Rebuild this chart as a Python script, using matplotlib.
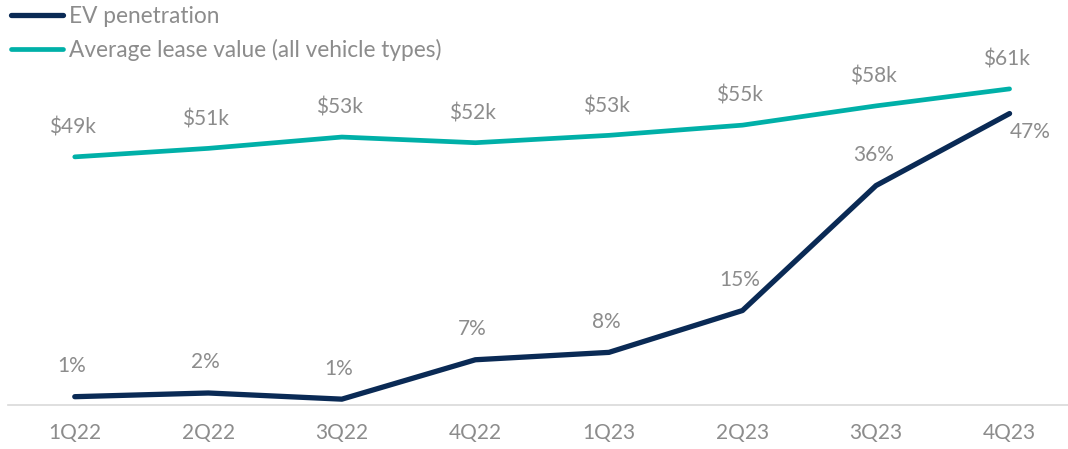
import matplotlib
matplotlib.use("Agg")
import matplotlib.pyplot as plt

quarters = ["1Q22", "2Q22", "3Q22", "4Q22", "1Q23", "2Q23", "3Q23", "4Q23"]
ev_pen = [1.0, 1.6, 0.6, 7.0, 8.2, 15.0, 35.3, 47.0]
ev_labels = ["1%", "2%", "1%", "7%", "8%", "15%", "36%", "47%"]
lease_val = [49.0, 50.5, 52.5, 51.5, 52.8, 54.6, 58.0, 61.0]
lease_labels = ["$49k", "$51k", "$53k", "$52k", "$53k", "$55k", "$58k", "$61k"]

NAVY = "#0A2A55"
TEAL = "#00B0A8"
GRAY = "#8C8C8C"

plt.rcParams['font.family'] = ['Lato', 'DejaVu Sans']

W, H = 1068, 449
fig = plt.figure(figsize=(W / 100, H / 100), dpi=100)
ax = fig.add_axes([8 / W, 44 / H, 1067 / W, 345 / H])
ax2 = ax.twinx()

x = list(range(len(quarters)))
l1, = ax.plot(x, ev_pen, color=NAVY, lw=3.8, solid_capstyle='round', solid_joinstyle='round', label="EV penetration")
l2, = ax2.plot(x, lease_val, color=TEAL, lw=3.4, solid_capstyle='round', solid_joinstyle='round', label="Average lease value (all vehicle types)")

ax.set_xlim(-0.5, 7.49)
ax.set_ylim(-0.35, 55.7)
ax2.set_ylim(5.2, 66.1)

for a in (ax, ax2):
    for s in ("top", "right", "left"):
        a.spines[s].set_visible(False)
    a.set_yticks([])
ax2.spines["bottom"].set_visible(False)
ax.spines["bottom"].set_color("#D9D9D9")
ax.spines["bottom"].set_linewidth(1.2)
ax.set_xticks(x)
ax.set_xticklabels(quarters, fontsize=15, color=GRAY)
ax.tick_params(axis='x', length=0, pad=13)

for i, (v, t) in enumerate(zip(ev_pen, ev_labels)):
    if i == len(ev_pen) - 1:
        ax.annotate(t, (i, v), xytext=(15, -13), textcoords='offset points',
                    ha='center', va='center', fontsize=15, color=GRAY)
    else:
        ax.annotate(t, (i, v), xytext=(-2, 22), textcoords='offset points',
                    ha='center', va='center', fontsize=15, color=GRAY)

for i, (v, t) in enumerate(zip(lease_val, lease_labels)):
    ax2.annotate(t, (i, v), xytext=(-2, 21), textcoords='offset points',
                 ha='center', va='center', fontsize=15, color=GRAY)

leg = fig.legend(handles=[l1, l2], loc='upper left', bbox_to_anchor=(0.006, 0.996),
                 frameon=False, fontsize=16.3, handlelength=2.3, handletextpad=0.28,
                 labelspacing=0.5, borderaxespad=0.0, borderpad=0.2)
for t in leg.get_texts():
    t.set_color(GRAY)

fig.savefig("out.png", dpi=100)
